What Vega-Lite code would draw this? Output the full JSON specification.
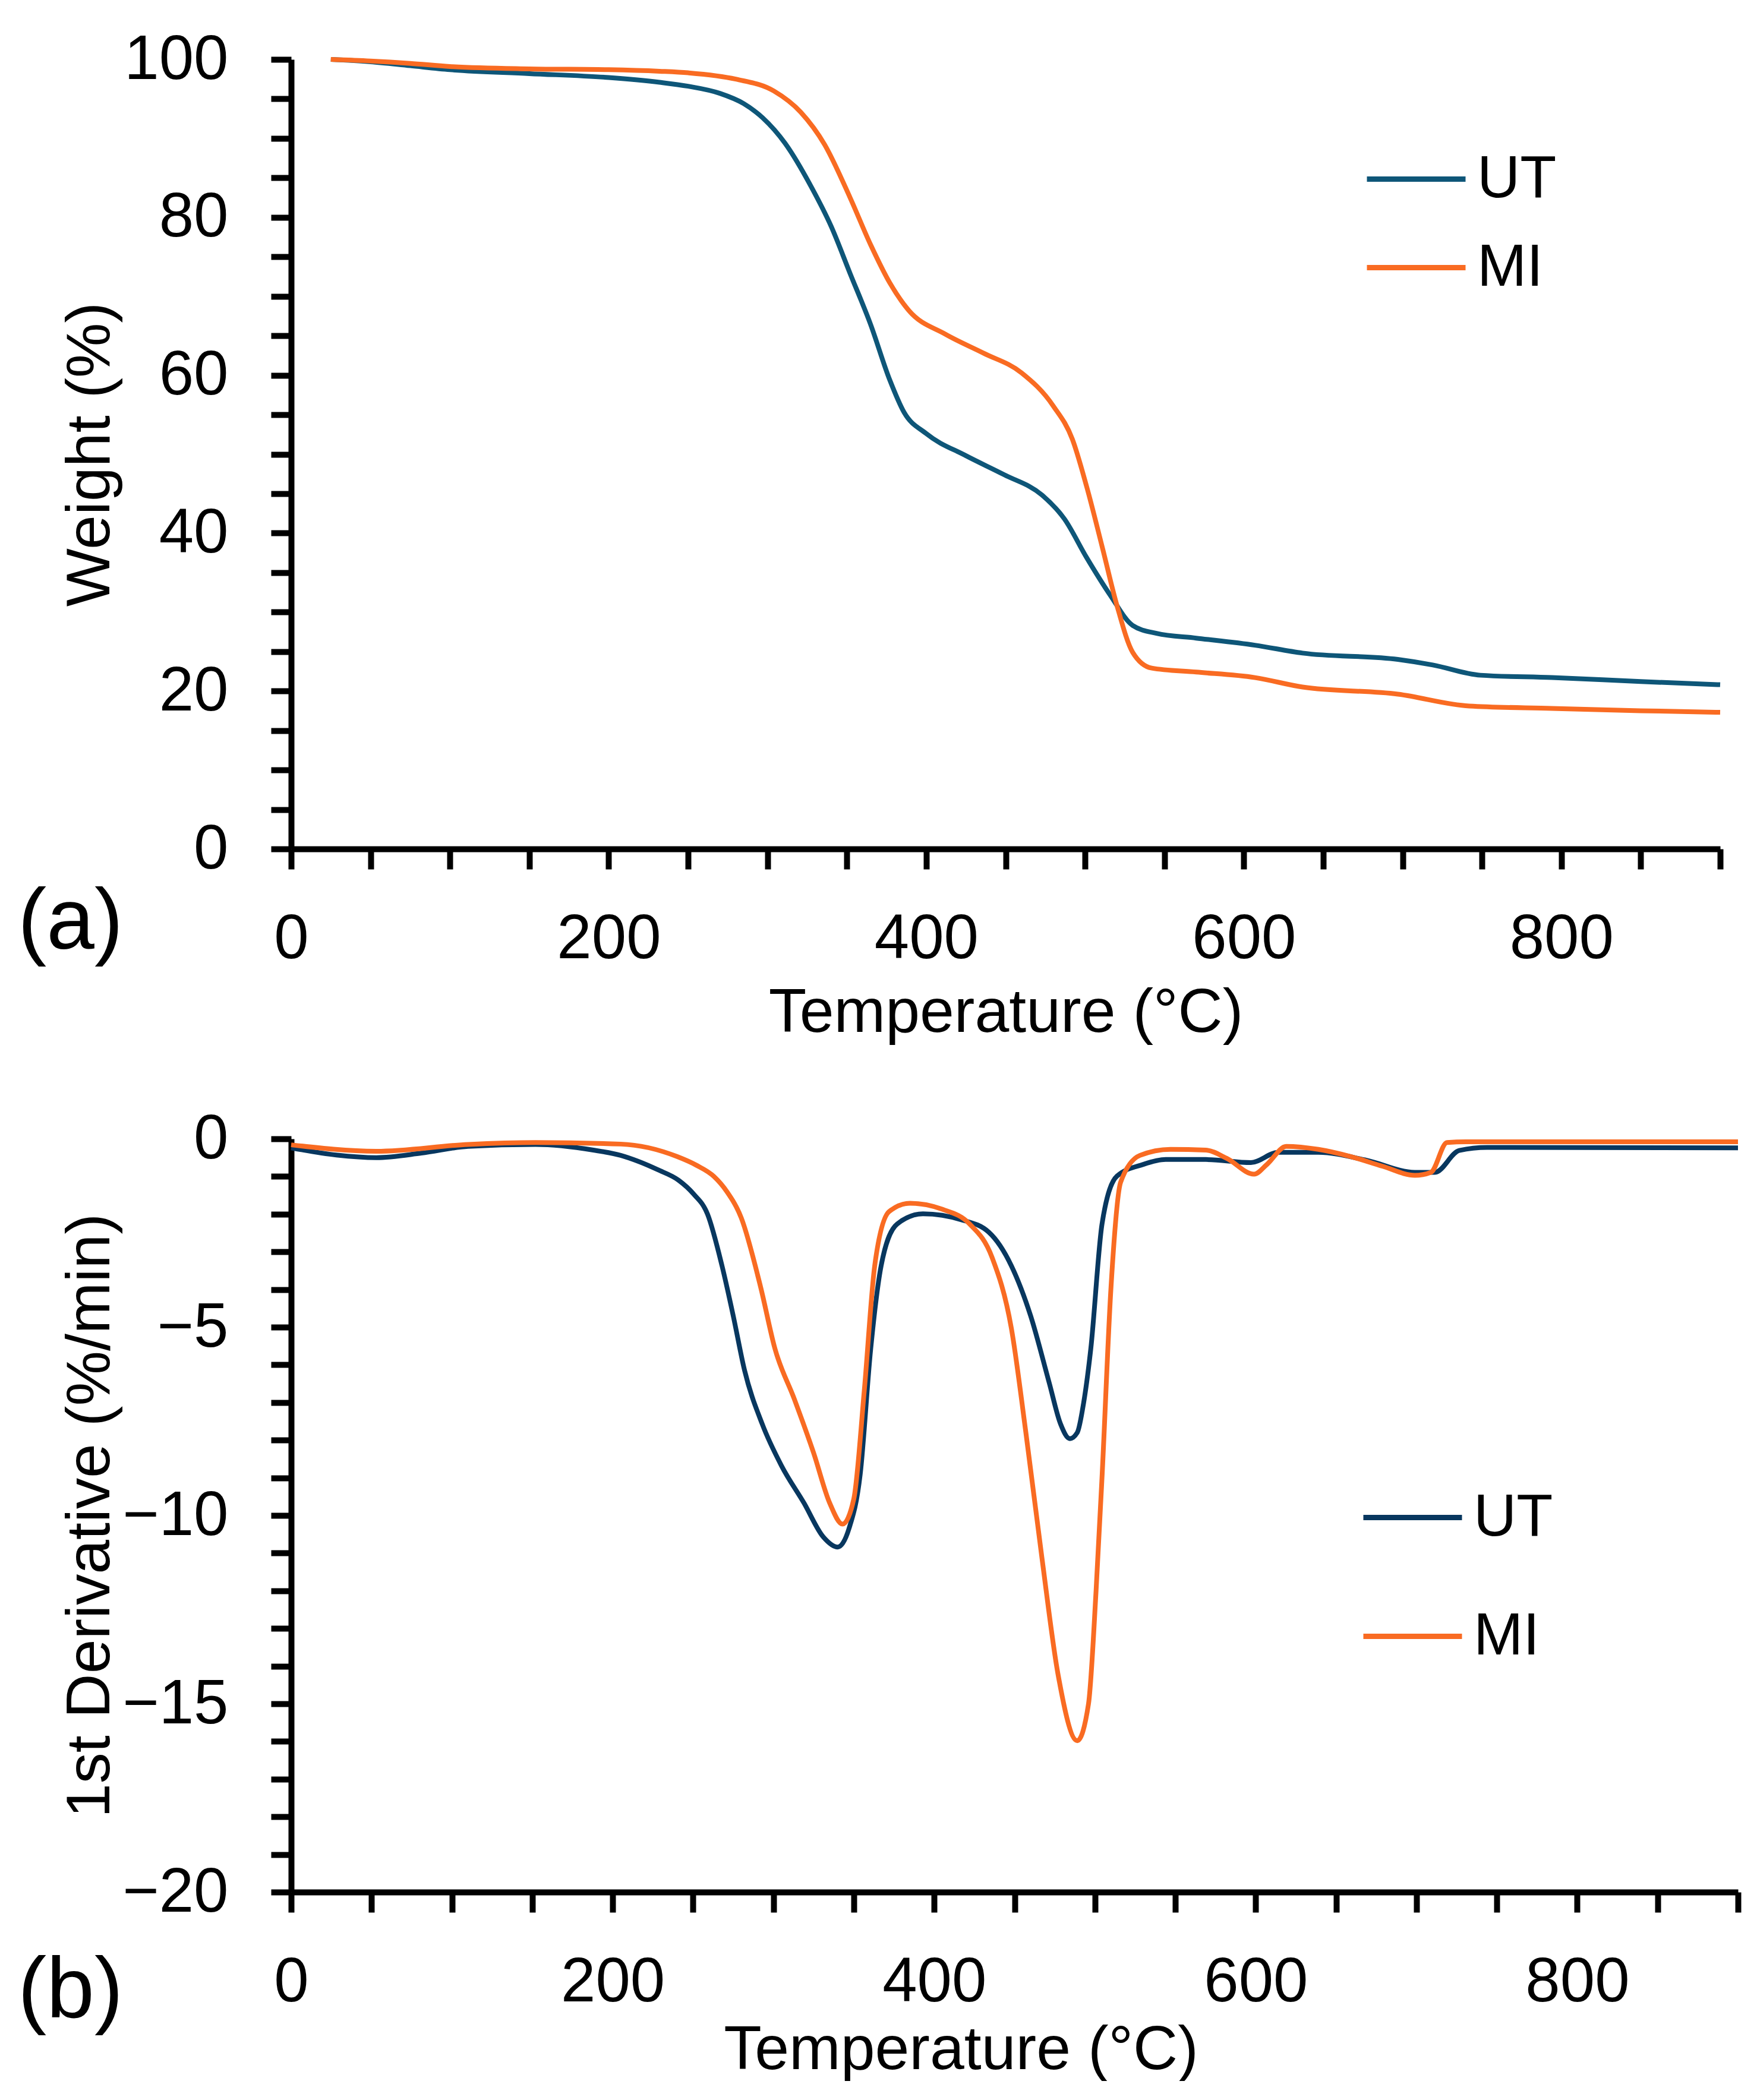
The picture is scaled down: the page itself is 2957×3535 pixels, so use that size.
{
  "$schema": "https://vega.github.io/schema/vega-lite/v6.json",
  "description": "TGA (a) and DTG (b) curves of UT and MI samples.",
  "padding": {"left": 30, "top": 48, "right": 0, "bottom": 0},
  "spacing": 108,
  "datasets": {
    "tga": [
      {"sample": "UT", "T": 25, "W": 100}, {"sample": "UT", "T": 50, "W": 99.7}, {"sample": "UT", "T": 75, "W": 99.2},
      {"sample": "UT", "T": 100, "W": 98.7}, {"sample": "UT", "T": 150, "W": 98.2}, {"sample": "UT", "T": 200, "W": 97.7},
      {"sample": "UT", "T": 232, "W": 97.1}, {"sample": "UT", "T": 250, "W": 96.6}, {"sample": "UT", "T": 270, "W": 95.7},
      {"sample": "UT", "T": 285, "W": 94.4}, {"sample": "UT", "T": 297, "W": 92.6}, {"sample": "UT", "T": 311, "W": 89.4},
      {"sample": "UT", "T": 328, "W": 83.7}, {"sample": "UT", "T": 340, "W": 78.9}, {"sample": "UT", "T": 352, "W": 72.9},
      {"sample": "UT", "T": 365, "W": 66.4}, {"sample": "UT", "T": 377, "W": 59.4}, {"sample": "UT", "T": 386, "W": 55.3},
      {"sample": "UT", "T": 400, "W": 52.6}, {"sample": "UT", "T": 425, "W": 49.8}, {"sample": "UT", "T": 449, "W": 47.4},
      {"sample": "UT", "T": 473, "W": 44.8}, {"sample": "UT", "T": 487, "W": 41.8}, {"sample": "UT", "T": 501, "W": 36.9},
      {"sample": "UT", "T": 516, "W": 32.1}, {"sample": "UT", "T": 530, "W": 28.3}, {"sample": "UT", "T": 545, "W": 27.3},
      {"sample": "UT", "T": 570, "W": 26.7}, {"sample": "UT", "T": 607, "W": 25.8}, {"sample": "UT", "T": 637, "W": 24.8},
      {"sample": "UT", "T": 697, "W": 24.0}, {"sample": "UT", "T": 719, "W": 23.3}, {"sample": "UT", "T": 749, "W": 22.0},
      {"sample": "UT", "T": 794, "W": 21.7}, {"sample": "UT", "T": 850, "W": 21.2}, {"sample": "UT", "T": 900, "W": 20.8},
      {"sample": "MI", "T": 25, "W": 100}, {"sample": "MI", "T": 50, "W": 99.8}, {"sample": "MI", "T": 75, "W": 99.5},
      {"sample": "MI", "T": 100, "W": 99.1}, {"sample": "MI", "T": 150, "W": 98.8}, {"sample": "MI", "T": 200, "W": 98.7},
      {"sample": "MI", "T": 232, "W": 98.5}, {"sample": "MI", "T": 250, "W": 98.3}, {"sample": "MI", "T": 280, "W": 97.5},
      {"sample": "MI", "T": 304, "W": 96.0}, {"sample": "MI", "T": 321, "W": 93.3}, {"sample": "MI", "T": 336, "W": 89.2},
      {"sample": "MI", "T": 352, "W": 82.5}, {"sample": "MI", "T": 365, "W": 76.5}, {"sample": "MI", "T": 377, "W": 71.7},
      {"sample": "MI", "T": 389, "W": 68.2}, {"sample": "MI", "T": 412, "W": 65.2}, {"sample": "MI", "T": 436, "W": 62.8},
      {"sample": "MI", "T": 460, "W": 60.3}, {"sample": "MI", "T": 480, "W": 56.1}, {"sample": "MI", "T": 492, "W": 51.9},
      {"sample": "MI", "T": 501, "W": 45.9}, {"sample": "MI", "T": 511, "W": 38.1}, {"sample": "MI", "T": 520, "W": 30.9},
      {"sample": "MI", "T": 530, "W": 24.9}, {"sample": "MI", "T": 542, "W": 22.9}, {"sample": "MI", "T": 570, "W": 22.4},
      {"sample": "MI", "T": 607, "W": 21.7}, {"sample": "MI", "T": 637, "W": 20.5}, {"sample": "MI", "T": 697, "W": 19.6},
      {"sample": "MI", "T": 742, "W": 18.1}, {"sample": "MI", "T": 794, "W": 17.8}, {"sample": "MI", "T": 850, "W": 17.5},
      {"sample": "MI", "T": 900, "W": 17.3}
    ],
    "dtg": [
      {"sample": "UT", "T": 0, "D": -0.24}, {"sample": "UT", "T": 28, "D": -0.43}, {"sample": "UT", "T": 53, "D": -0.5},
      {"sample": "UT", "T": 81, "D": -0.38}, {"sample": "UT", "T": 110, "D": -0.2}, {"sample": "UT", "T": 152, "D": -0.15},
      {"sample": "UT", "T": 188, "D": -0.3}, {"sample": "UT", "T": 205, "D": -0.44}, {"sample": "UT", "T": 216, "D": -0.6},
      {"sample": "UT", "T": 228, "D": -0.82}, {"sample": "UT", "T": 241, "D": -1.1}, {"sample": "UT", "T": 250, "D": -1.45},
      {"sample": "UT", "T": 259, "D": -2.0}, {"sample": "UT", "T": 268, "D": -3.37}, {"sample": "UT", "T": 275, "D": -4.7},
      {"sample": "UT", "T": 282, "D": -6.14}, {"sample": "UT", "T": 293, "D": -7.57}, {"sample": "UT", "T": 305, "D": -8.68},
      {"sample": "UT", "T": 319, "D": -9.67}, {"sample": "UT", "T": 331, "D": -10.57}, {"sample": "UT", "T": 340, "D": -10.84},
      {"sample": "UT", "T": 347, "D": -10.35}, {"sample": "UT", "T": 354, "D": -8.9}, {"sample": "UT", "T": 360.5, "D": -5.58},
      {"sample": "UT", "T": 367, "D": -3.37}, {"sample": "UT", "T": 377, "D": -2.26}, {"sample": "UT", "T": 393, "D": -1.99},
      {"sample": "UT", "T": 417, "D": -2.15}, {"sample": "UT", "T": 434, "D": -2.48}, {"sample": "UT", "T": 448, "D": -3.37},
      {"sample": "UT", "T": 460, "D": -4.7}, {"sample": "UT", "T": 471.5, "D": -6.47}, {"sample": "UT", "T": 478.6, "D": -7.57},
      {"sample": "UT", "T": 484.4, "D": -7.96}, {"sample": "UT", "T": 489, "D": -7.8}, {"sample": "UT", "T": 493, "D": -7.0},
      {"sample": "UT", "T": 497.4, "D": -5.58}, {"sample": "UT", "T": 504.4, "D": -2.26}, {"sample": "UT", "T": 513.7, "D": -0.99},
      {"sample": "UT", "T": 530, "D": -0.68},
      {"sample": "UT", "T": 544, "D": -0.55}, {"sample": "UT", "T": 569, "D": -0.55}, {"sample": "UT", "T": 597, "D": -0.63},
      {"sample": "UT", "T": 614, "D": -0.36}, {"sample": "UT", "T": 639, "D": -0.36}, {"sample": "UT", "T": 669, "D": -0.57},
      {"sample": "UT", "T": 699, "D": -0.89}, {"sample": "UT", "T": 711.5, "D": -0.89}, {"sample": "UT", "T": 726.6, "D": -0.31},
      {"sample": "UT", "T": 744, "D": -0.23}, {"sample": "UT", "T": 900, "D": -0.24},
      {"sample": "MI", "T": 0, "D": -0.16}, {"sample": "MI", "T": 53, "D": -0.33}, {"sample": "MI", "T": 110, "D": -0.15},
      {"sample": "MI", "T": 152, "D": -0.1}, {"sample": "MI", "T": 205, "D": -0.14}, {"sample": "MI", "T": 240, "D": -0.47},
      {"sample": "MI", "T": 252, "D": -0.7}, {"sample": "MI", "T": 263, "D": -1.0}, {"sample": "MI", "T": 271, "D": -1.4},
      {"sample": "MI", "T": 280, "D": -2.1}, {"sample": "MI", "T": 292, "D": -3.93}, {"sample": "MI", "T": 301, "D": -5.58},
      {"sample": "MI", "T": 313, "D": -6.91}, {"sample": "MI", "T": 325, "D": -8.34}, {"sample": "MI", "T": 335, "D": -9.67},
      {"sample": "MI", "T": 343, "D": -10.23}, {"sample": "MI", "T": 350, "D": -9.56}, {"sample": "MI", "T": 356.5, "D": -6.69},
      {"sample": "MI", "T": 363, "D": -3.37}, {"sample": "MI", "T": 372, "D": -1.93}, {"sample": "MI", "T": 385, "D": -1.71},
      {"sample": "MI", "T": 405, "D": -1.87}, {"sample": "MI", "T": 422, "D": -2.26}, {"sample": "MI", "T": 436, "D": -3.15},
      {"sample": "MI", "T": 448, "D": -5.03}, {"sample": "MI", "T": 457, "D": -7.79}, {"sample": "MI", "T": 467, "D": -11.12},
      {"sample": "MI", "T": 477, "D": -14.21}, {"sample": "MI", "T": 489, "D": -15.98}, {"sample": "MI", "T": 496, "D": -15.0},
      {"sample": "MI", "T": 500.7, "D": -12.0}, {"sample": "MI", "T": 504.5, "D": -8.9}, {"sample": "MI", "T": 510, "D": -3.93},
      {"sample": "MI", "T": 516, "D": -1.15},
      {"sample": "MI", "T": 528, "D": -0.44}, {"sample": "MI", "T": 547, "D": -0.28}, {"sample": "MI", "T": 569, "D": -0.3},
      {"sample": "MI", "T": 582, "D": -0.52}, {"sample": "MI", "T": 599, "D": -0.94}, {"sample": "MI", "T": 607, "D": -0.68},
      {"sample": "MI", "T": 619, "D": -0.2}, {"sample": "MI", "T": 639, "D": -0.28}, {"sample": "MI", "T": 659, "D": -0.47},
      {"sample": "MI", "T": 679, "D": -0.73}, {"sample": "MI", "T": 699, "D": -0.97}, {"sample": "MI", "T": 709, "D": -0.89},
      {"sample": "MI", "T": 719, "D": -0.1}, {"sample": "MI", "T": 731, "D": -0.08}, {"sample": "MI", "T": 900, "D": -0.08}
    ]
  },
  "vconcat": [
    {
      "width": 2405,
      "height": 1329,
      "data": {"name": "tga"},
      "title": {"text": "(a)", "orient": "bottom", "anchor": "start", "frame": "bounds", "fontSize": 145, "fontWeight": "normal", "offset": -275, "dx": -70},
      "mark": {"type": "line", "strokeWidth": 8, "interpolate": "monotone"},
      "encoding": {
        "x": {
          "field": "T", "type": "quantitative",
          "scale": {"domain": [0, 900], "nice": false},
          "axis": {
            "title": "Temperature (°C)",
            "values": [0, 50, 100, 150, 200, 250, 300, 350, 400, 450, 500, 550, 600, 650, 700, 750, 800, 850, 900],
            "labelExpr": "datum.value % 200 === 0 ? datum.label : ''"
          }
        },
        "y": {
          "field": "W", "type": "quantitative",
          "scale": {"domain": [0, 100], "nice": false},
          "axis": {
            "title": "Weight (%)",
            "titleX": -285,
            "values": [0, 5, 10, 15, 20, 25, 30, 35, 40, 45, 50, 55, 60, 65, 70, 75, 80, 85, 90, 95, 100],
            "labelExpr": "datum.value % 20 === 0 ? datum.label : ''"
          }
        },
        "color": {
          "field": "sample", "type": "nominal",
          "scale": {"domain": ["UT", "MI"], "range": ["#0E5678", "#F96B22"]},
          "legend": {"orient": "none", "legendX": 1806, "legendY": 114, "rowPadding": 11}
        }
      }
    },
    {
      "width": 2435,
      "height": 1268,
      "data": {"name": "dtg"},
      "title": {"text": "(b)", "orient": "bottom", "anchor": "start", "frame": "bounds", "fontSize": 145, "fontWeight": "normal", "offset": -222, "dx": -70},
      "mark": {"type": "line", "strokeWidth": 8, "interpolate": "monotone"},
      "encoding": {
        "x": {
          "field": "T", "type": "quantitative",
          "scale": {"domain": [0, 900], "nice": false},
          "axis": {
            "title": "Temperature (°C)",
            "titleX": 1127,
            "titlePadding": 15,
            "values": [0, 50, 100, 150, 200, 250, 300, 350, 400, 450, 500, 550, 600, 650, 700, 750, 800, 850, 900],
            "labelExpr": "datum.value % 200 === 0 ? datum.label : ''"
          }
        },
        "y": {
          "field": "D", "type": "quantitative",
          "scale": {"domain": [-20, 0], "nice": false},
          "axis": {
            "title": "1st Derivative (%/min)",
            "titleX": -285,
            "values": [-20, -19, -18, -17, -16, -15, -14, -13, -12, -11, -10, -9, -8, -7, -6, -5, -4, -3, -2, -1, 0],
            "labelExpr": "datum.value % 5 === 0 ? datum.label : ''"
          }
        },
        "color": {
          "field": "sample", "type": "nominal",
          "scale": {"domain": ["UT", "MI"], "range": ["#08375F", "#F96B22"]},
          "legend": {"orient": "none", "legendX": 1800, "legendY": 550, "rowPadding": 62}
        }
      }
    }
  ],
  "resolve": {"scale": {"color": "independent"}},
  "config": {
    "font": "Liberation Sans",
    "view": {"stroke": null},
    "title": {"color": "black", "font": "Liberation Sans"},
    "axis": {
      "grid": false,
      "domainColor": "black",
      "domainWidth": 10,
      "tickColor": "black",
      "tickWidth": 10,
      "tickSize": 34,
      "labelFont": "Liberation Sans",
      "labelFontSize": 105,
      "labelColor": "black",
      "labelOverlap": false,
      "labelFlush": false,
      "titleFont": "Liberation Sans",
      "titleFontSize": 104,
      "titleFontWeight": "normal",
      "titleColor": "black"
    },
    "axisX": {"titlePadding": 25, "labelPadding": 66},
    "axisY": {"labelPadding": 72},
    "legend": {
      "title": null,
      "symbolType": "stroke",
      "symbolSize": 27556,
      "symbolStrokeWidth": 9,
      "labelFont": "Liberation Sans",
      "labelFontSize": 100,
      "labelColor": "black",
      "labelOffset": 15
    }
  }
}
